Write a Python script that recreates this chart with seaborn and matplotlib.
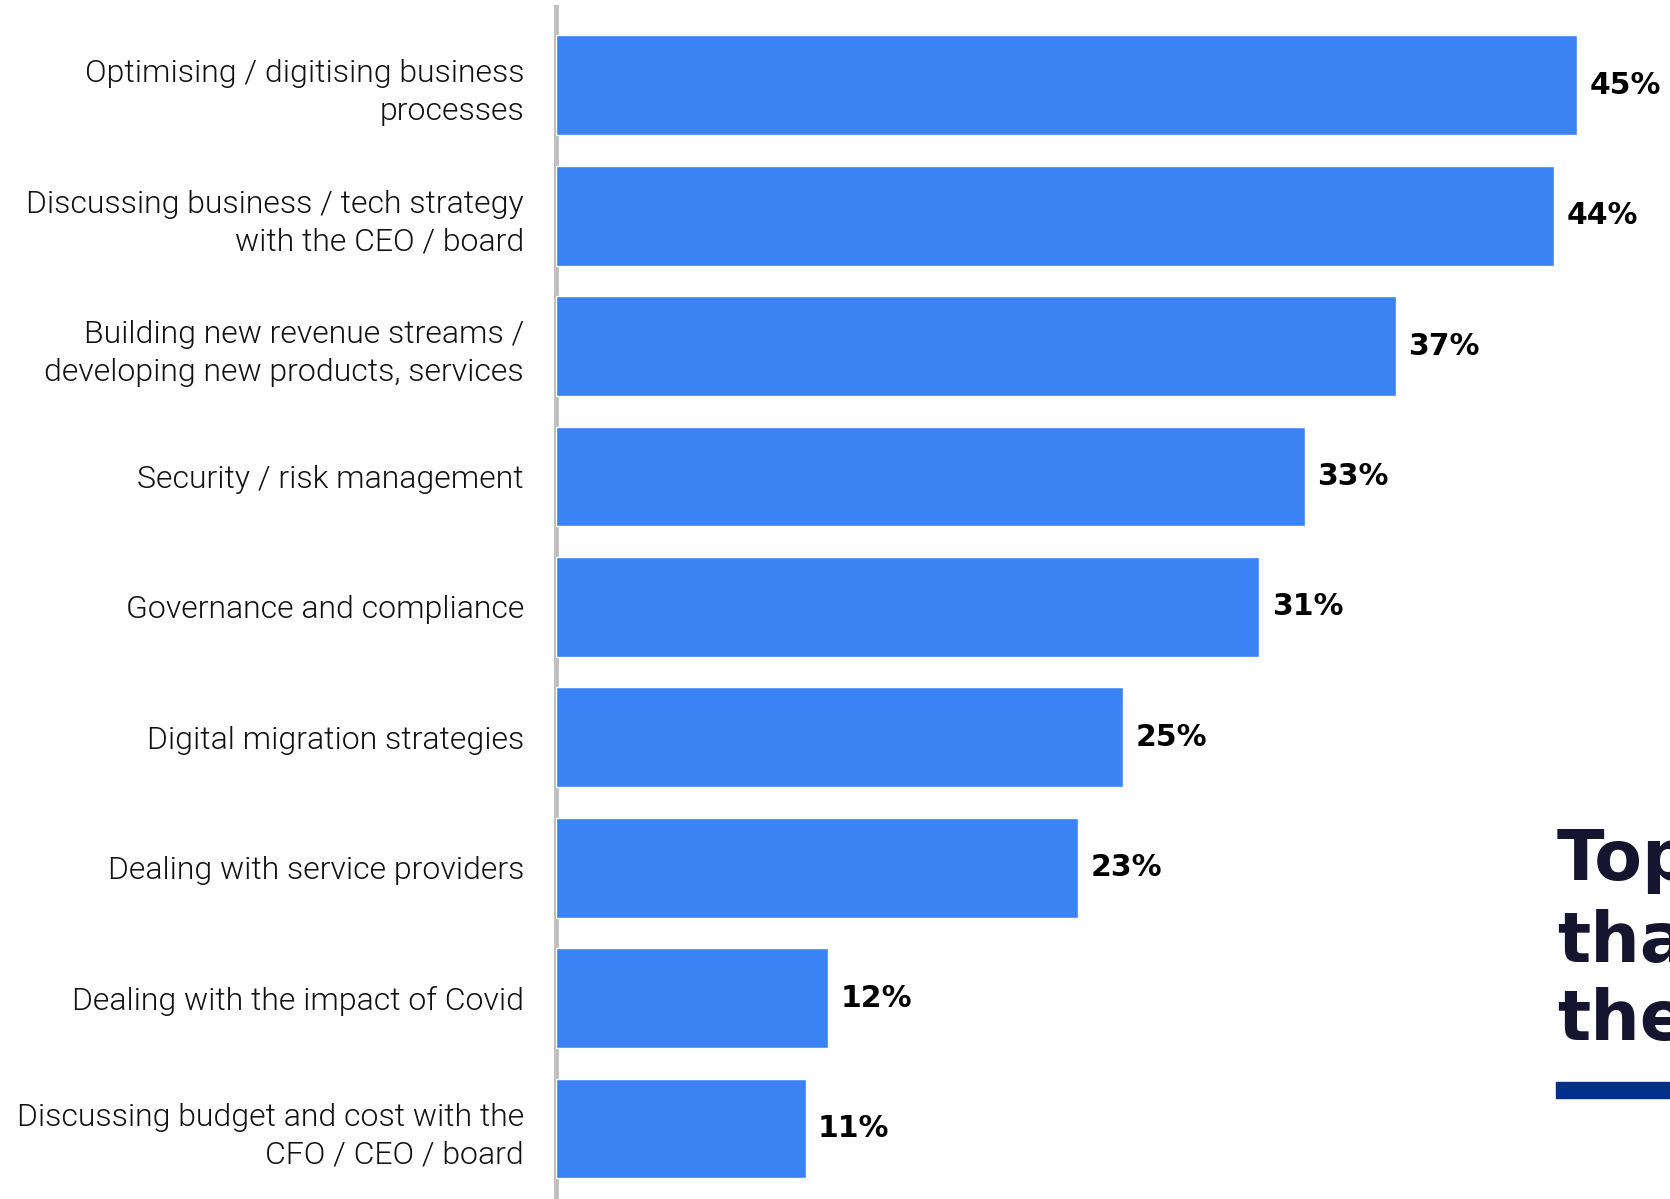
import matplotlib
matplotlib.use("Agg")
import matplotlib.pyplot as plt
import seaborn as sns

# chart data
categories = [
    "Optimising / digitising business\nprocesses",
    "Discussing business / tech strategy\nwith the CEO / board",
    "Building new revenue streams /\ndeveloping new products, services",
    "Security / risk management",
    "Governance and compliance",
    "Digital migration strategies",
    "Dealing with service providers",
    "Dealing with the impact of Covid",
    "Discussing budget and cost with the\nCFO / CEO / board",
]
values = [45, 44, 37, 33, 31, 25, 23, 12, 11]
value_labels = [f"{v}%" for v in values]
title_lines = ["Top", "tha", "the"]

sns.set_style("white")
label_font = ["Roboto", "DejaVu Sans"]
bold_font = ["DejaVu Sans"]

W, H = 1670, 1199
fig = plt.figure(figsize=(W / 100, H / 100), dpi=100)
ax = fig.add_axes([556 / W, 0, 1 - 556 / W, (H - 7) / H])

sns.barplot(x=values, y=categories, orient="h", color="#3B82F4",
            width=0.765, saturation=1, ax=ax)

ax.set_xlim(0, (W - 556) / 22.69)
ax.set_ylim(8.54, -0.60)

# value labels at the end of each bar
for i, (v, lab) in enumerate(zip(values, value_labels)):
    ax.text(v + 0.55, i, lab, va="center", ha="left", fontsize=21.5,
            fontweight="bold", family=bold_font, color="#000000")

for s in ["top", "right", "bottom"]:
    ax.spines[s].set_visible(False)
ax.spines["left"].set_color("#c0c0c0")
ax.spines["left"].set_linewidth(3.6)
ax.spines["left"].set_zorder(0.5)

ax.set_xticks([])
ax.set_xlabel("")
ax.set_ylabel("")
ax.tick_params(axis="y", length=0, pad=23)
for t in ax.get_yticklabels():
    t.set_fontsize(23)
    t.set_family(label_font)
    t.set_fontweight(300)
    t.set_color("#111111")
    t.set_linespacing(1.4)
    t.set_ha("right")

# partly hidden headline on the right edge
for line, base in zip(title_lines, [880, 962, 1040]):
    fig.text(1557 / W, 1 - base / H, line, ha="left", va="baseline",
             fontsize=50, fontweight="bold", family=bold_font, color="#15152F")
fig.patches.append(plt.Rectangle((1556 / W, 1 - 1098 / H), (W - 1556) / W, 16 / H,
                                 transform=fig.transFigure, color="#00308A"))

fig.savefig("out.png", dpi=100)
